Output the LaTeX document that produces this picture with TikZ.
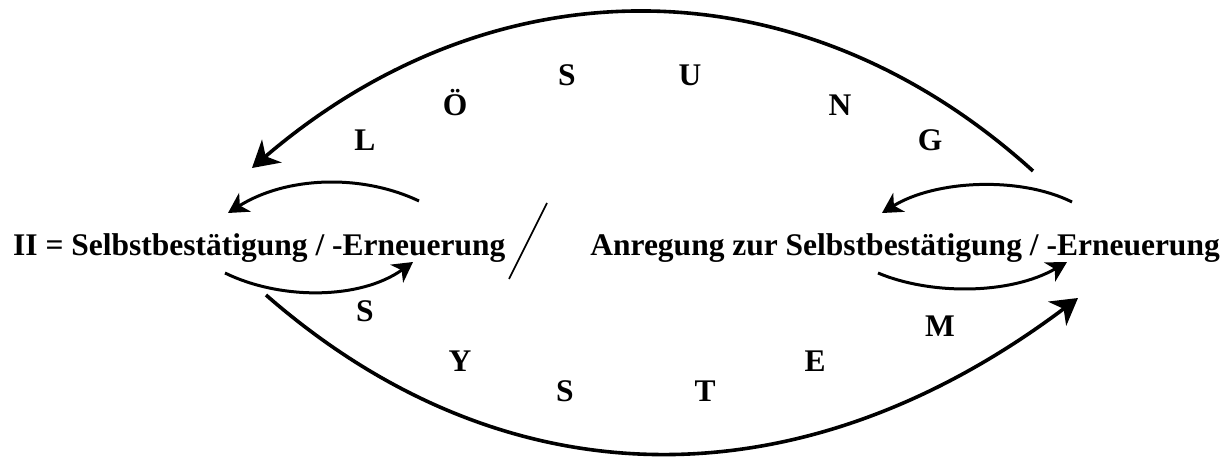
\documentclass[tikz,border=0pt]{standalone}
\usepackage{fontspec}
\setmainfont{Liberation Serif}
\usetikzlibrary{arrows.meta, positioning, calc}

\begin{document}
\begin{tikzpicture}[
  x=1pt, y=-1pt,
  bigarc/.style={line width=3.6pt, -{Stealth[length=26pt, width=30pt, inset=8pt]}},
  smallarc/.style={line width=3pt, -{Stealth[length=20pt, width=22pt, inset=6pt]}},
  txt/.style={font=\fontsize{31.5}{36}\selectfont\bfseries, inner sep=0pt},
  ltr/.style={txt, anchor=base}
  ]
  \useasboundingbox (0,0) rectangle (1231,457);
  \node[txt, anchor=base west] (left)  at (13,255)   {II = Selbstbestätigung / -Erneuerung};
  \node[txt, anchor=base east] (right) at (1220,255) {Anregung zur Selbstbestätigung / -Erneuerung};
  % Loesung
  \node[ltr] (l1) at (365,151) {L};
  \node[ltr] (l2) at (455,116) {Ö};
  \node[ltr] (l3) at (567,86)  {S};
  \node[ltr] (l4) at (690,86)  {U};
  \node[ltr] (l5) at (840,116) {N};
  \node[ltr] (l6) at (930,151) {G};
  % System
  \node[ltr] (s1) at (365,321) {S};
  \node[ltr] (s2) at (460,371) {Y};
  \node[ltr] (s3) at (565,401) {S};
  \node[ltr] (s4) at (705,401) {T};
  \node[ltr] (s5) at (815,371) {E};
  \node[ltr] (s6) at (940,336) {M};
  \coordinate (topR) at (1033,171);
  \coordinate (topL) at (252,168);
  \coordinate (botL) at (266,295);
  \coordinate (botR) at (1078,298);
  \coordinate (lt1) at (419,201);
  \coordinate (lt2) at (228,213);
  \coordinate (lb1) at (225,273);
  \coordinate (lb2) at (413,262);
  \coordinate (rt1) at (1072,202);
  \coordinate (rt2) at (882,213);
  \coordinate (rb1) at (878,273);
  \coordinate (rb2) at (1067,262);
  \coordinate (sl1) at (547,203);
  \coordinate (sl2) at (509,279);
  \draw[bigarc] (topR) .. controls (800,-40) and (495,-40) .. (topL);
  \draw[bigarc] (botL) .. controls (505,504) and (800,507) .. (botR);
  \draw[smallarc] (lt1) .. controls (360,173) and (285,177) .. (lt2);
  \draw[smallarc] (lb1) .. controls (280,300) and (360,300) .. (lb2);
  \draw[smallarc] (rt1) .. controls (1020,176) and (935,180) .. (rt2);
  \draw[smallarc] (rb1) .. controls (930,295) and (1010,295) .. (rb2);
  \draw[line width=1.6pt] (sl1) -- (sl2);
\end{tikzpicture}
\end{document}
